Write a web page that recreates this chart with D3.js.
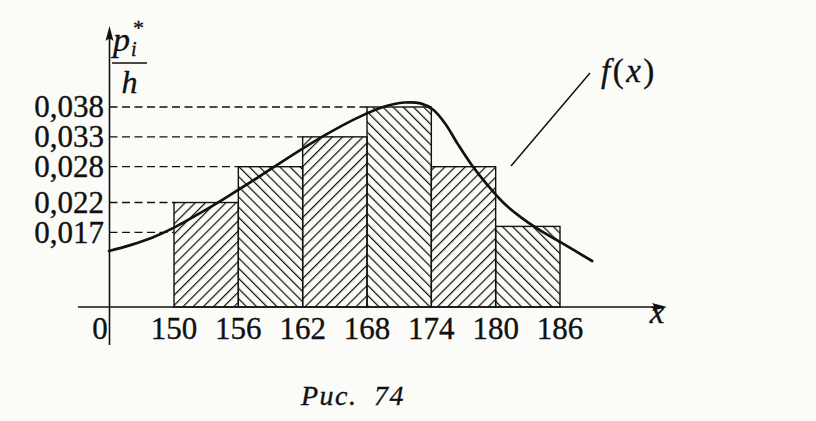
<!DOCTYPE html>
<html><head><meta charset="utf-8">
<script src="https://cdn.jsdelivr.net/npm/d3@7"></script>
<style>body{margin:0;background:#fbfbf8;} svg{display:block} text{stroke:#111;stroke-width:0.35px;}</style>
</head><body><svg id="c" width="816" height="421"></svg>
<script>
// ---- data ----
const binEdges = [150, 156, 162, 168, 174, 180, 186];
const density = [0.022, 0.028, 0.033, 0.038, 0.028, 0.018];
const yTicks = [0.017, 0.022, 0.028, 0.033, 0.038];
const yTickLabels = ["0,017", "0,022", "0,028", "0,033", "0,038"];
const xTickLabels = ["150", "156", "162", "168", "174", "180", "186"];
const curveX = [143.94, 146.0, 148.0, 150.0, 152.5, 155.0, 158.0, 161.0, 164.0, 167.0, 169.5, 171.5, 173.0, 174.2, 175.3, 176.5, 177.8, 179.2, 180.7, 182.3, 184.0, 186.0, 189.0];
const curveY = [0.01388, 0.01490, 0.01615, 0.01780, 0.02030, 0.02300, 0.02640, 0.02990, 0.03320, 0.03610, 0.03800, 0.03875, 0.03860, 0.03750, 0.03520, 0.03170, 0.02820, 0.02500, 0.02200, 0.01960, 0.01750, 0.01540, 0.0122];

// ---- layout ----
const INK = "#111";
const FONT = '"Liberation Serif"';
const axisY = 307, axisX = 109.5;
const x = d3.scaleLinear().domain([150, 186]).range([174, 560]);
const y = d3.scaleLinear().domain([0.0045, 0.038]).range([axisY, 107]);

const svg = d3.select("#c");
svg.append("rect").attr("width", 816).attr("height", 421).attr("fill", "#fbfbf8");

const defs = svg.append("defs");
function hatch(id, angle) {
  const p = defs.append("pattern").attr("id", id).attr("patternUnits", "userSpaceOnUse")
    .attr("width", 7.2).attr("height", 7.2).attr("patternTransform", `rotate(${angle})`);
  p.append("line").attr("x1", 0.6).attr("y1", -1).attr("x2", 0.6).attr("y2", 9)
    .attr("stroke", INK).attr("stroke-width", 1.25);
}
hatch("hR", 45);
hatch("hL", -45);

// dashed reference lines: from y axis to first bar reaching that height
const dashG = svg.append("g");
yTicks.forEach((t) => {
  const i = density.findIndex(d => d >= t - 1e-9);
  dashG.append("line")
    .attr("x1", axisX).attr("x2", x(binEdges[i]))
    .attr("y1", y(t)).attr("y2", y(t))
    .attr("stroke", INK).attr("stroke-width", 1.3).attr("stroke-dasharray", "8,4.5");
});

// bars
const bars = density.map((d, i) => ({x0: binEdges[i], x1: binEdges[i + 1], v: d, i}));
svg.append("g").selectAll("rect").data(bars).join("rect")
  .attr("x", d => x(d.x0)).attr("width", d => x(d.x1) - x(d.x0))
  .attr("y", d => y(d.v)).attr("height", d => axisY - y(d.v))
  .attr("fill", d => d.i % 2 === 0 ? "url(#hR)" : "url(#hL)")
  .attr("stroke", INK).attr("stroke-width", 1.4);

// axes
svg.append("line").attr("x1", 78).attr("x2", 660).attr("y1", axisY).attr("y2", axisY)
  .attr("stroke", INK).attr("stroke-width", 1.5);
svg.append("path").attr("d", `M667,${axisY} L652,${axisY - 4} Q656,${axisY} 652,${axisY + 4} Z`).attr("fill", INK);
svg.append("line").attr("x1", axisX).attr("x2", axisX).attr("y1", 345).attr("y2", 34)
  .attr("stroke", INK).attr("stroke-width", 1.6);
svg.append("path").attr("d", `M${axisX},26 L${axisX - 4},41 Q${axisX},37 ${axisX + 4},41 Z`).attr("fill", INK);

// curve
const pts = curveX.map((v, i) => [v, curveY[i]]);
svg.append("path").datum(pts)
  .attr("d", d3.line().x(d => x(d[0])).y(d => y(d[1])).curve(d3.curveCatmullRom.alpha(0.5)))
  .attr("fill", "none").attr("stroke", INK).attr("stroke-width", 2.7).attr("stroke-linecap", "round");

// y tick labels
svg.append("g").selectAll("text").data(yTicks).join("text")
  .attr("x", 104).attr("y", d => y(d)).attr("dy", "0.33em")
  .attr("text-anchor", "end").style("font-family", FONT).style("font-size", "31px").attr("fill", INK)
  .text((d, i) => yTickLabels[i]);

// x tick labels
svg.append("g").selectAll("text").data(binEdges).join("text")
  .attr("x", d => x(d)).attr("y", 339)
  .attr("text-anchor", "middle").style("font-family", FONT).style("font-size", "31px").attr("fill", INK)
  .text((d, i) => xTickLabels[i]);

const tx = (xx, yy, size, s, italic = true, anchor = "start") =>
  svg.append("text").attr("x", xx).attr("y", yy).attr("text-anchor", anchor)
    .style("font-family", FONT).style("font-style", italic ? "italic" : "normal")
    .style("font-size", size + "px").attr("fill", INK).text(s);

tx(100, 339, 31, "0", false, "middle");
tx(657, 323, 33, "x", true, "middle");
tx(113, 51, 34, "p");
tx(131, 56, 20, "i");
tx(133, 35, 22, "*", false);
svg.append("line").attr("x1", 112).attr("x2", 147).attr("y1", 63).attr("y2", 63).attr("stroke", INK).attr("stroke-width", 1.3);
tx(129.5, 93, 32, "h", true, "middle");

// f(x) annotation
const ft = svg.append("text").attr("x", 601).attr("y", 82).style("font-family", FONT)
  .style("font-size", "33px").attr("fill", INK).attr("letter-spacing", 2.5);
ft.append("tspan").style("font-style", "italic").text("f");
ft.append("tspan").text("(");
ft.append("tspan").style("font-style", "italic").text("x");
ft.append("tspan").text(")");
svg.append("line").attr("x1", 590).attr("y1", 73).attr("x2", 511).attr("y2", 166)
  .attr("stroke", INK).attr("stroke-width", 1.5);

// caption
svg.append("text").attr("x", 353).attr("y", 405).attr("text-anchor", "middle")
  .style("font-family", FONT).style("font-style", "italic").style("font-size", "28px")
  .attr("fill", INK).attr("word-spacing", 8).attr("letter-spacing", 1.5).text("Рис. 74");
</script></body></html>
